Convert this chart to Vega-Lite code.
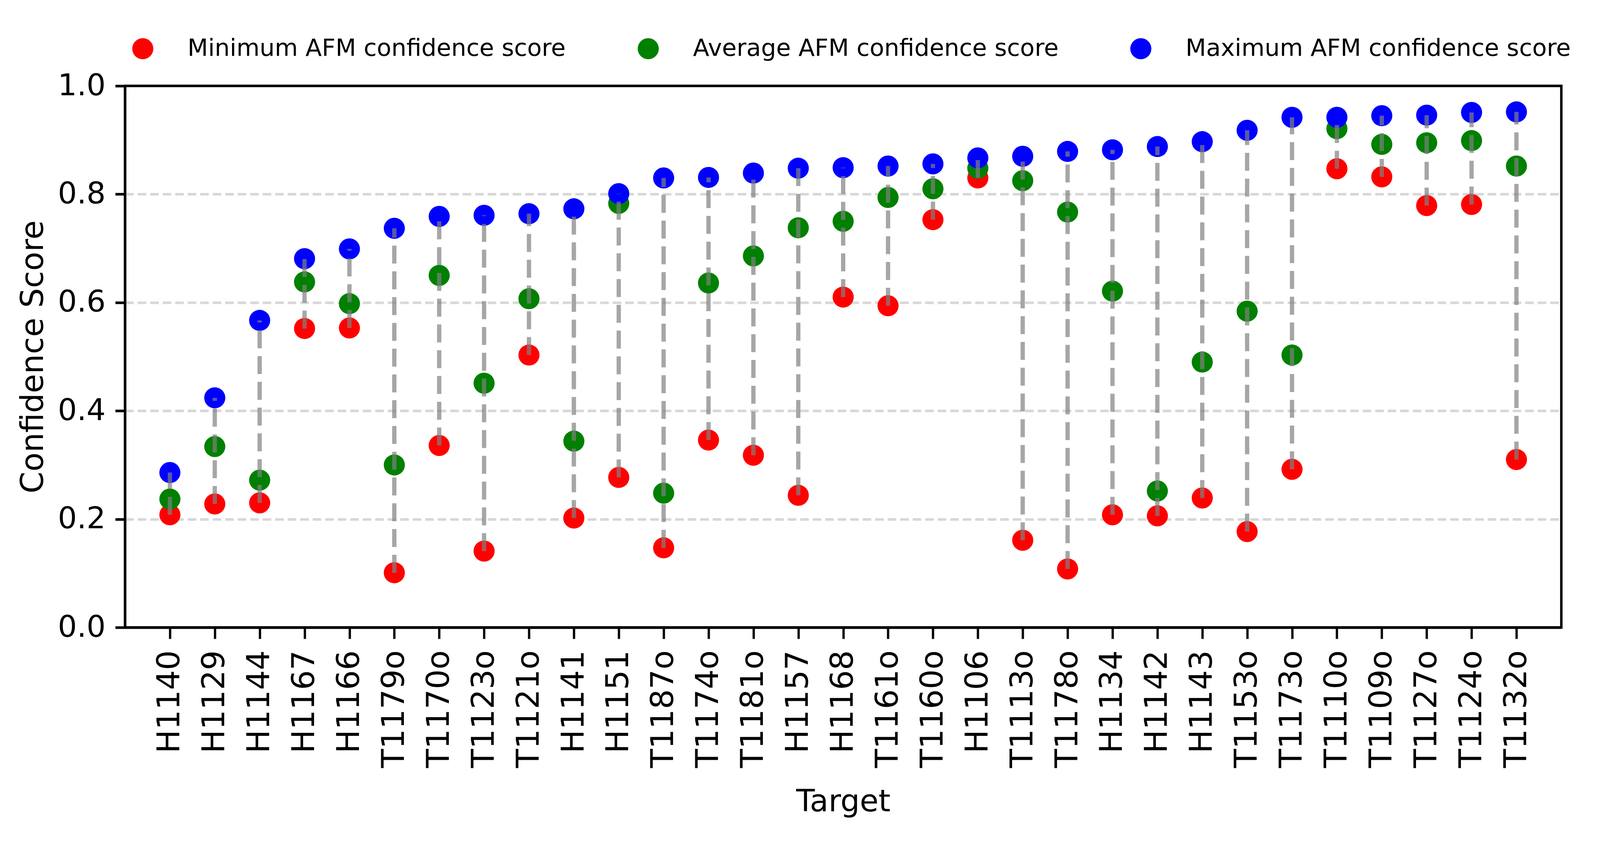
{
  "$schema": "https://vega.github.io/schema/vega-lite/v6.json",
  "width": 3677,
  "height": 1387,
  "autosize": {"type": "none"},
  "padding": {"left": 320, "top": 220, "right": 99, "bottom": 547},
  "background": "white",
  "config": {
    "font": "DejaVu Sans",
    "view": {"stroke": "black", "strokeWidth": 6.3}
  },
  "data": {
    "values": [
      {"target": "H1140", "min": 0.208, "avg": 0.237, "max": 0.286},
      {"target": "H1129", "min": 0.228, "avg": 0.334, "max": 0.424},
      {"target": "H1144", "min": 0.230, "avg": 0.272, "max": 0.567},
      {"target": "H1167", "min": 0.552, "avg": 0.638, "max": 0.681},
      {"target": "H1166", "min": 0.553, "avg": 0.598, "max": 0.699},
      {"target": "T1179o", "min": 0.101, "avg": 0.300, "max": 0.737},
      {"target": "T1170o", "min": 0.336, "avg": 0.650, "max": 0.759},
      {"target": "T1123o", "min": 0.141, "avg": 0.451, "max": 0.761},
      {"target": "T1121o", "min": 0.503, "avg": 0.607, "max": 0.764},
      {"target": "H1141", "min": 0.202, "avg": 0.344, "max": 0.773},
      {"target": "H1151", "min": 0.277, "avg": 0.783, "max": 0.801},
      {"target": "T1187o", "min": 0.147, "avg": 0.248, "max": 0.830},
      {"target": "T1174o", "min": 0.346, "avg": 0.636, "max": 0.831},
      {"target": "T1181o", "min": 0.318, "avg": 0.686, "max": 0.839},
      {"target": "H1157", "min": 0.244, "avg": 0.738, "max": 0.848},
      {"target": "H1168", "min": 0.610, "avg": 0.750, "max": 0.849},
      {"target": "T1161o", "min": 0.594, "avg": 0.794, "max": 0.852},
      {"target": "T1160o", "min": 0.753, "avg": 0.810, "max": 0.856},
      {"target": "H1106", "min": 0.830, "avg": 0.848, "max": 0.867},
      {"target": "T1113o", "min": 0.161, "avg": 0.825, "max": 0.870},
      {"target": "T1178o", "min": 0.108, "avg": 0.767, "max": 0.879},
      {"target": "H1134", "min": 0.208, "avg": 0.621, "max": 0.882},
      {"target": "H1142", "min": 0.206, "avg": 0.252, "max": 0.888},
      {"target": "H1143", "min": 0.239, "avg": 0.490, "max": 0.897},
      {"target": "T1153o", "min": 0.177, "avg": 0.584, "max": 0.918},
      {"target": "T1173o", "min": 0.292, "avg": 0.503, "max": 0.942},
      {"target": "T1110o", "min": 0.847, "avg": 0.921, "max": 0.942},
      {"target": "T1109o", "min": 0.832, "avg": 0.892, "max": 0.945},
      {"target": "T1127o", "min": 0.779, "avg": 0.895, "max": 0.946},
      {"target": "T1124o", "min": 0.781, "avg": 0.899, "max": 0.951},
      {"target": "T1132o", "min": 0.310, "avg": 0.852, "max": 0.952}
    ]
  },
  "layer": [
    {
      "transform": [{"fold": ["min", "avg", "max"], "as": ["stat", "score"]}],
      "mark": {"type": "point", "filled": true, "shape": "circle", "size": 2916, "opacity": 1},
      "encoding": {
        "x": {
          "field": "target", "type": "nominal", "sort": null,
          "scale": {"type": "point", "padding": 1.5},
          "axis": {
            "title": "Target", "titleFontSize": 78, "titleFontWeight": "normal", "titleColor": "black",
            "titleY": 470, "titleBaseline": "alphabetic",
            "labelFontSize": 80, "labelAngle": 270, "labelAlign": "right", "labelBaseline": "middle",
            "labelPadding": 29, "labelColor": "black", "labelOverlap": false, "labelLimit": 1000,
            "tickSize": 29, "tickWidth": 5.9, "tickColor": "black",
            "domainColor": "black", "domainWidth": 6.7, "grid": false
          }
        },
        "y": {
          "field": "score", "type": "quantitative",
          "scale": {"domain": [0, 1], "nice": false},
          "axis": {
            "title": "Confidence Score", "titleFontSize": 80, "titleFontWeight": "normal", "titleColor": "black",
            "titleX": -211, "titleBaseline": "alphabetic",
            "values": [0, 0.2, 0.4, 0.6, 0.8, 1.0], "format": ".1f",
            "labelFontSize": 77, "labelPadding": 25, "labelColor": "black", "labelFlush": false, "labelOverlap": false,
            "tickSize": 25, "tickWidth": 6.7, "tickColor": "black",
            "domainColor": "black", "domainWidth": 5.9,
            "grid": true, "gridDash": [22, 10], "gridColor": "#b0b0b0", "gridWidth": 6.7,
            "gridOpacity": {"condition": {"test": "datum.value <= 0 || datum.value >= 1", "value": 0}, "value": 0.5}
          }
        },
        "color": {
          "field": "stat", "type": "nominal",
          "scale": {"domain": ["min", "avg", "max"], "range": ["#ff0000", "#008000", "#0000ff"]},
          "legend": {
            "title": null, "orient": "none", "legendX": 15, "legendY": -126, "direction": "horizontal",
            "symbolType": "circle", "symbolSize": 2916, "symbolStrokeWidth": 0, "symbolOpacity": 1,
            "labelFontSize": 61, "labelOffset": 84, "columnPadding": 180, "labelLimit": 2000, "padding": 0,
            "labelColor": "black",
            "labelExpr": "datum.label == 'min' ? 'Minimum AFM confidence score' : datum.label == 'avg' ? 'Average AFM confidence score' : 'Maximum AFM confidence score'"
          }
        }
      }
    },
    {
      "mark": {"type": "rule", "color": "#808080", "opacity": 0.7, "strokeWidth": 11, "strokeDash": [46, 20]},
      "encoding": {
        "x": {"field": "target", "type": "nominal", "sort": null},
        "y": {"field": "min", "type": "quantitative", "axis": {"title": "Confidence Score"}},
        "y2": {"field": "max"}
      }
    }
  ]
}
